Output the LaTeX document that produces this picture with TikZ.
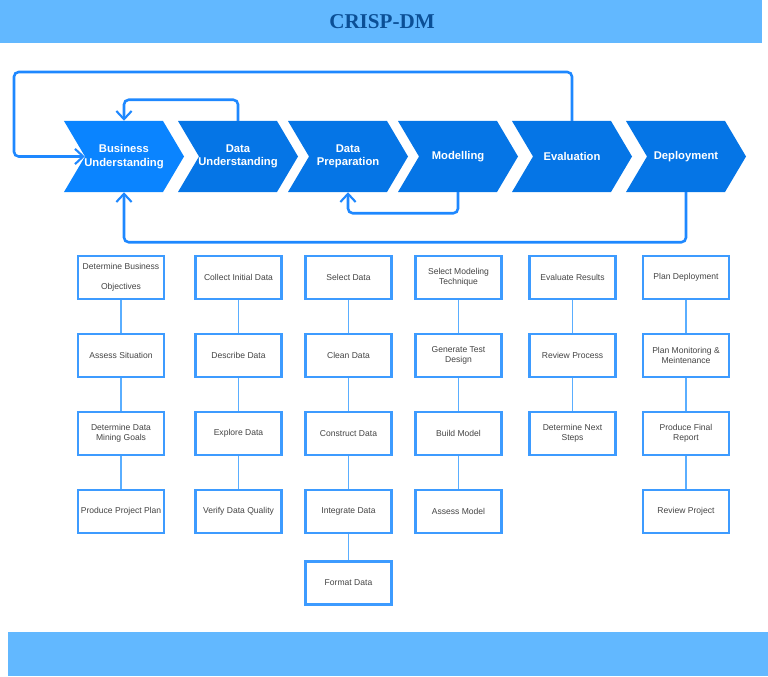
\documentclass[tikz,border=0pt]{standalone}
\usepackage{fontspec}
\setmainfont{Liberation Sans}
\newfontfamily\titlefont{Liberation Serif}
\usetikzlibrary{arrows.meta}
\definecolor{bandblue}{HTML}{62B8FF}
\definecolor{titleblue}{HTML}{0B4F96}
\definecolor{chevA}{HTML}{0A84FF}
\definecolor{chevB}{HTML}{0575E6}
\definecolor{loopblue}{HTML}{1E88FF}
\definecolor{boxblue}{HTML}{3D9BFF}
\definecolor{linkblue}{HTML}{5AAEFF}
\definecolor{tasktext}{HTML}{444444}
\begin{document}
\begin{tikzpicture}[x=0.03cm,y=-0.03cm]
		\tikzset{phase/.style = {minimum width=3.6cm,minimum height=2.13cm,inner sep=0pt,text=white,align=center,font=\fontsize{9.6}{11.5}\selectfont\bfseries,
				path picture={\fill[#1] (path picture bounding box.north west) -- ([xshift=-0.63cm]path picture bounding box.north east) -- (path picture bounding box.east) -- ([xshift=-0.63cm]path picture bounding box.south east) -- (path picture bounding box.south west) -- ([xshift=0.63cm]path picture bounding box.west) -- cycle;}}}
		\tikzset{task/.style = {draw=boxblue,line width=1.9pt,fill=white,minimum width=2.58cm,minimum height=1.29cm,inner sep=1pt,align=center,text=tasktext,font=\fontsize{7.3}{8.8}\selectfont}}
		\tikzset{back/.style = {->,> = {Straight Barb[length=7pt,width=13pt,line width=1.8pt]},draw=loopblue,line width=2.2pt,rounded corners=4pt}}
		\tikzset{link/.style = {draw=linkblue,line width=1pt}}
		\useasboundingbox (0,0) rectangle (768,676);
		\fill[bandblue] (0,0) rectangle (762,43);
		\fill[bandblue] (8,632) rectangle (768,676);
		\node[text=titleblue,font=\titlefont\fontsize{18}{20}\selectfont\bfseries] (title) at (382,22) {CRISP-DM};
		% phases
		\node[phase=chevA] (bu) at (124,156.5) {Business\\Understanding};
		\node[phase=chevB] (du) at (238,156.5) {Data\\Understanding};
		\node[phase=chevB] (dp) at (348,156.5) {Data\\Preparation};
		\node[phase=chevB] (mo) at (458,156.5) {Modelling};
		\node[phase=chevB] (ev) at (572,156.5) {Evaluation};
		\node[phase=chevB] (de) at (686,156.5) {Deployment};
		% feedback loops
		\path[back] (ev.north) |- (14,72) |- ([xshift=0.63cm]bu.west);
		\path[back] (du.north) -- ++(0,-21) -| (bu.north);
		\path[back] (mo.south) -- ++(0,21) -| (dp.south);
		\path[back] (de.south) -- ++(0,50) -| (bu.south);
		% tasks
		\node[task] (bu1) at (121,277.5) {Determine Business\\[8pt]Objectives};
		\node[task] (bu2) at (121,355.5) {Assess Situation};
		\node[task] (bu3) at (121,433.5) {Determine Data\\Mining Goals};
		\node[task] (bu4) at (121,511.5) {Produce Project Plan};
		\node[task] (du1) at (238.5,277.5) {Collect Initial Data};
		\node[task] (du2) at (238.5,355.5) {Describe Data};
		\node[task] (du3) at (238.5,433.5) {Explore Data};
		\node[task] (du4) at (238.5,511.5) {Verify Data Quality};
		\node[task] (dp1) at (348.5,277.5) {Select Data};
		\node[task] (dp2) at (348.5,355.5) {Clean Data};
		\node[task] (dp3) at (348.5,433.5) {Construct Data};
		\node[task] (dp4) at (348.5,511.5) {Integrate Data};
		\node[task] (dp5) at (348.5,583) {Format Data};
		\node[task] (mo1) at (458.5,277.5) {Select Modeling\\Technique};
		\node[task] (mo2) at (458.5,355.5) {Generate Test\\Design};
		\node[task] (mo3) at (458.5,433.5) {Build Model};
		\node[task] (mo4) at (458.5,511.5) {Assess Model};
		\node[task] (ev1) at (572.5,277.5) {Evaluate Results};
		\node[task] (ev2) at (572.5,355.5) {Review Process};
		\node[task] (ev3) at (572.5,433.5) {Determine Next\\Steps};
		\node[task] (de1) at (686,277.5) {Plan Deployment};
		\node[task] (de2) at (686,355.5) {Plan Monitoring \&\\Meintenance};
		\node[task] (de3) at (686,433.5) {Produce Final\\Report};
		\node[task] (de4) at (686,511.5) {Review Project};
		\path[link] (bu1) edge (bu2) (bu2) edge (bu3) (bu3) edge (bu4);
		\path[link] (du1) edge (du2) (du2) edge (du3) (du3) edge (du4);
		\path[link] (dp1) edge (dp2) (dp2) edge (dp3) (dp3) edge (dp4) (dp4) edge (dp5);
		\path[link] (mo1) edge (mo2) (mo2) edge (mo3) (mo3) edge (mo4);
		\path[link] (ev1) edge (ev2) (ev2) edge (ev3);
		\path[link] (de1) edge (de2) (de2) edge (de3) (de3) edge (de4);
	\end{tikzpicture}
\end{document}
